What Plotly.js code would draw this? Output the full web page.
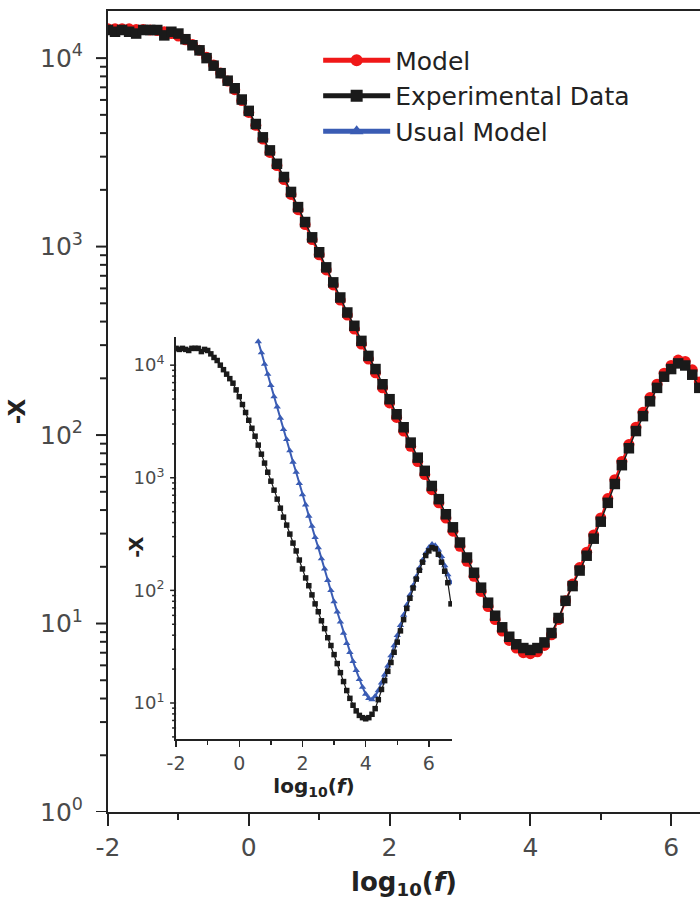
<!DOCTYPE html>
<html>
<head>
<meta charset="utf-8">
<script src="https://cdn.plot.ly/plotly-3.0.1.min.js"></script>
<style>html,body{margin:0;padding:0;background:#fff;}#chart{width:700px;height:900px;}</style>
</head>
<body>
<div id="chart"></div>
<script>
// log10(f) grid of the measured spectrum
const logF = [-2.0,-1.9,-1.8,-1.7,-1.6,-1.5,-1.4,-1.3,-1.2,-1.1,-1.0,-0.9,-0.8,-0.7,-0.6,-0.5,-0.4,-0.3,-0.2,-0.1,
  0.0,0.1,0.2,0.3,0.4,0.5,0.6,0.7,0.8,0.9,1.0,1.1,1.2,1.3,1.4,1.5,1.6,1.7,1.8,1.9,
  2.0,2.1,2.2,2.3,2.4,2.5,2.6,2.7,2.8,2.9,3.0,3.1,3.2,3.3,3.4,3.5,3.6,3.7,3.8,3.9,
  4.0,4.1,4.2,4.3,4.4,4.5,4.6,4.7,4.8,4.9,5.0,5.1,5.2,5.3,5.4,5.5,5.6,5.7,5.8,5.9,
  6.0,6.1,6.2,6.3,6.4,6.5,6.6,6.7];

// Experimental Data (-X)
const experimental = [14100,13800,14100,13800,13500,14100,14100,14100,13200,13800,13500,12600,11700,11000,10000,9120,8320,7590,6920,6030,
  5250,4470,3800,3240,2750,2340,1950,1620,1350,1120,933,776,646,537,447,380,316,263,224,186,
  155,129,110,91.2,75.9,64.6,53.7,45.7,38.0,32.4,26.9,22.4,18.6,15.5,12.9,11.0,9.55,8.51,7.76,7.41,
  7.24,7.41,7.94,8.91,10.7,13.2,15.8,19.1,22.9,28.2,34.7,43.7,55.0,69.2,85.1,105,126,151,178,204,
  224,240,234,209,178,148,117,75.9];

// Model (-X)
const model = [14300,14300,14300,14300,14200,14200,14100,14000,13800,13500,13100,12500,11800,11000,10100,9200,8350,7550,6800,5950,
  5150,4400,3720,3160,2690,2270,1890,1570,1310,1090,905,752,626,520,433,365,304,253,214,178,
  148,124,105,87.1,72.4,61.7,51.3,43.7,36.3,30.9,25.7,21.4,17.8,14.8,12.3,10.5,9.12,8.13,7.41,7.00,
  6.92,7.08,7.65,8.71,10.5,13.2,16.2,19.8,23.9,29.5,36.3,46.0,58.0,72.4,89.0,110,132,158,186,213,
  234,250,246,222,191,160,130,104];

// Usual Model (inset)
const usualLogF = [0.6,0.7,0.8,0.9,1.0,1.1,1.2,1.3,1.4,1.5,1.6,1.7,1.8,1.9,2.0,2.1,2.2,2.3,2.4,2.5,
  2.6,2.7,2.8,2.9,3.0,3.1,3.2,3.3,3.4,3.5,3.6,3.7,3.8,3.9,4.0,4.1,4.2,4.3,4.4,4.5,
  4.6,4.7,4.8,4.9,5.0,5.1,5.2,5.3,5.4,5.5,5.6,5.7,5.8,5.9,6.0,6.1,6.2,6.3,6.4,6.5,6.6,6.7];
const usualModel = [16200,12900,10200,8320,6610,5250,4270,3390,2690,2190,1740,1380,1120,891,708,575,457,372,295,240,
  191,155,123,100,79.4,64.6,52.5,41.7,33.9,28.2,23.4,19.5,16.2,13.8,12.0,11.0,10.7,11.5,12.9,15.1,
  17.8,21.4,26.3,32.4,39.8,49.0,60.3,74.1,91.2,110,132,158,186,214,240,257,251,229,200,166,138,117];

// Tick labels
const yTickVals = [1, 10, 100, 1000, 10000];
const yTickText = ['10<sup>0</sup>','10<sup>1</sup>','10<sup>2</sup>','10<sup>3</sup>','10<sup>4</sup>'];
const yMinorVals = [2,3,4,5,6,7,8,9,20,30,40,50,60,70,80,90,200,300,400,500,600,700,800,900,2000,3000,4000,5000,6000,7000,8000,9000];
const xTickVals = [-2, 0, 2, 4, 6];
const xTickText = ['-2', '0', '2', '4', '6'];
const xMinorVals = [-1, 1, 3, 5];
const insetYTickVals = [10, 100, 1000, 10000];
const insetYTickText = ['10<sup>1</sup>','10<sup>2</sup>','10<sup>3</sup>','10<sup>4</sup>'];
const insetYMinorVals = [5,6,7,8,9,20,30,40,50,60,70,80,90,200,300,400,500,600,700,800,900,2000,3000,4000,5000,6000,7000,8000,9000];

const FONT = 'DejaVu Sans, Arial, sans-serif';
const AX = '#222';
const TICKC = '#4a4a4a';
const NONE = 'rgba(0,0,0,0)';

// y-axis tick marks placed through the log axes (data values)
function yTickShapes(vals, xref, yref, len, width) {
  return vals.map(function (v) {
    return {type: 'line', xref: xref, yref: yref, xsizemode: 'pixel', xanchor: 0, x0: -len, x1: 0,
            y0: v, y1: v, line: {color: AX, width: width}, layer: 'above'};
  });
}
const shapes = [].concat(
  yTickShapes(yTickVals, 'x domain', 'y', 12, 2),
  yTickShapes(yMinorVals, 'x domain', 'y', 8, 2),
  yTickShapes(insetYTickVals, 'x2 domain', 'y2', 6, 1.5),
  yTickShapes(insetYMinorVals, 'x2 domain', 'y2', 4, 1.5)
);

const traces = [
  {x: logF, y: model, name: 'Model', type: 'scatter', mode: 'lines+markers',
   line: {color: '#f01818', width: 2}, marker: {symbol: 'circle', size: 11, color: '#f01818'},
   xaxis: 'x', yaxis: 'y'},
  {x: logF, y: experimental, name: 'Experimental Data', type: 'scatter', mode: 'lines+markers',
   line: {color: '#1a1a1a', width: 1.5}, marker: {symbol: 'square', size: 10.5, color: '#1a1a1a'},
   xaxis: 'x', yaxis: 'y'},
  {x: usualLogF, y: usualModel, name: 'Usual Model', type: 'scatter', mode: 'lines+markers',
   line: {color: '#3a5cb4', width: 2}, marker: {symbol: 'triangle-up', size: 6.5, color: '#3a5cb4'},
   xaxis: 'x2', yaxis: 'y2'},
  {x: logF, y: experimental, name: 'Experimental Data', showlegend: false, type: 'scatter', mode: 'lines+markers',
   line: {color: '#1a1a1a', width: 1.2}, marker: {symbol: 'square', size: 5.5, color: '#1a1a1a'},
   xaxis: 'x2', yaxis: 'y2'}
];

const layout = {
  width: 700, height: 900,
  margin: {l: 108, r: 0, t: 11, b: 88},
  paper_bgcolor: '#fff', plot_bgcolor: NONE,
  font: {family: FONT, color: TICKC},
  showlegend: true,
  legend: {x: 0.355, xanchor: 'left', y: 0.967, yanchor: 'top', bgcolor: NONE,
           font: {family: FONT, size: 25, color: '#222'}, itemwidth: 67, itemsizing: 'constant'},
  xaxis: {domain: [0, 1], range: [-2, 6.41], showgrid: false, zeroline: false,
          showline: true, linecolor: AX, linewidth: 2, mirror: true,
          tickmode: 'array', tickvals: xTickVals, ticktext: xTickText, ticks: 'outside', ticklen: 12, tickwidth: 2, tickcolor: AX,
          minor: {tickmode: 'array', tickvals: xMinorVals, ticks: 'outside', ticklen: 6, tickwidth: 2, tickcolor: AX},
          tickfont: {family: FONT, size: 25, color: TICKC}, ticklabelstandoff: 0,
          title: {text: '<b>log<sub>10</sub>(<i>f</i>)</b>', font: {family: FONT, size: 26, color: '#222'}, standoff: 12}},
  yaxis: {domain: [0, 1], type: 'log', range: [0, 4.25], showgrid: false, zeroline: false,
          showline: true, linecolor: AX, linewidth: 2,
          tickmode: 'array', tickvals: yTickVals, ticktext: yTickText, ticks: 'outside', ticklen: 12, tickwidth: 2, tickcolor: NONE,
          tickfont: {family: FONT, size: 25, color: TICKC}, ticklabelstandoff: 6,
          title: {text: '<b>-X</b>', font: {family: FONT, size: 23, color: '#222'}, standoff: 8}},
  xaxis2: {domain: [0.115, 0.581], anchor: 'y2', range: [-2, 6.73], showgrid: false, zeroline: false,
           showline: true, linecolor: AX, linewidth: 2,
           tickmode: 'array', tickvals: xTickVals, ticktext: xTickText, ticks: 'outside', ticklen: 6, tickwidth: 1.5, tickcolor: AX,
           minor: {tickmode: 'array', tickvals: xMinorVals, ticks: 'outside', ticklen: 4, tickwidth: 1.5, tickcolor: AX},
           tickfont: {family: FONT, size: 19, color: TICKC},
           title: {text: '<b>log<sub>10</sub>(<i>f</i>)</b>', font: {family: FONT, size: 20, color: '#222'}, standoff: 2}},
  yaxis2: {domain: [0.0911, 0.593], anchor: 'x2', type: 'log', range: [0.68, 4.25], showgrid: false, zeroline: false,
           showline: true, linecolor: AX, linewidth: 2,
           tickmode: 'array', tickvals: insetYTickVals, ticktext: insetYTickText, ticks: 'outside', ticklen: 6, tickwidth: 1.5, tickcolor: NONE,
           tickfont: {family: FONT, size: 18, color: TICKC}},
  shapes: shapes,
  annotations: [
    {text: '<b>-X</b>', textangle: -90, xref: 'paper', yref: 'paper', x: 0.047, y: 0.331,
     xanchor: 'center', yanchor: 'middle', showarrow: false, font: {family: FONT, size: 19, color: '#222'}}
  ]
};

Plotly.newPlot('chart', traces, layout, {displayModeBar: false, staticPlot: true});
</script>
</body>
</html>
